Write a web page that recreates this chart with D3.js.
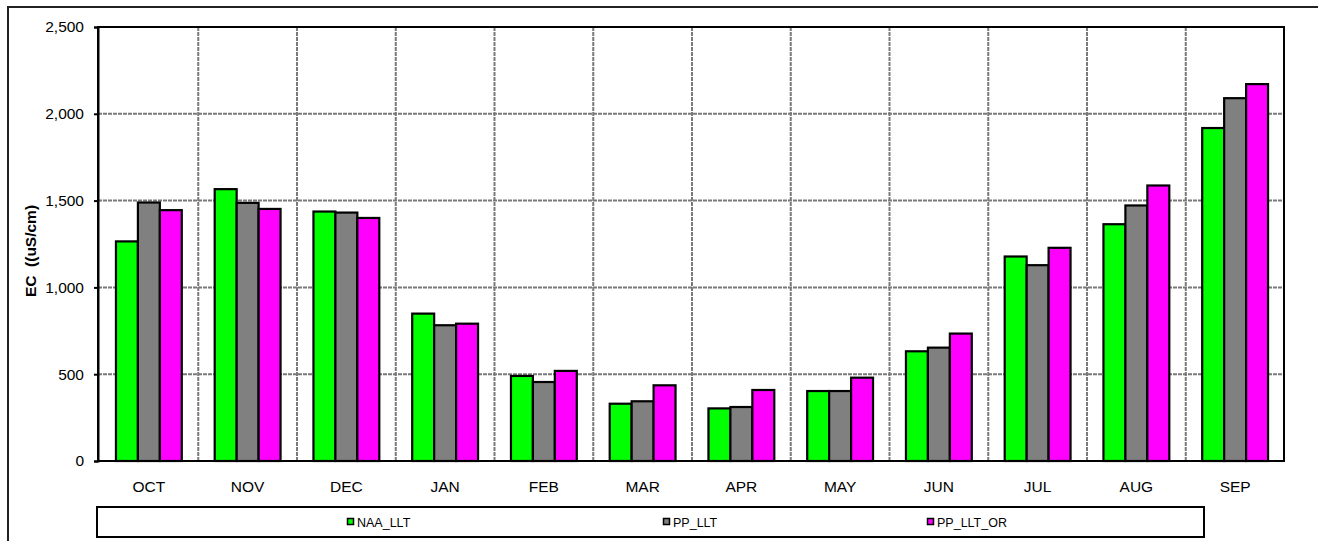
<!DOCTYPE html>
<html>
<head>
<meta charset="utf-8">
<script src="https://cdn.jsdelivr.net/npm/d3@7"></script>
<style>
  html, body { margin: 0; padding: 0; background: #fff; overflow: hidden; }
  svg { display: block; font-family: "Liberation Sans", Arial, sans-serif; }
</style>
</head>
<body>
<svg id="chart" width="1318" height="541"></svg>
<script>
const months = ["OCT","NOV","DEC","JAN","FEB","MAR","APR","MAY","JUN","JUL","AUG","SEP"];
const seriesNames = ["NAA_LLT","PP_LLT","PP_LLT_OR"];
const seriesColors = ["#00FF00","#808080","#FF00FF"];
const naaLLT   = [1265, 1566, 1437, 849, 490, 330, 303, 403, 632, 1178, 1364, 1918];
const ppLLT    = [1489, 1487, 1431, 782, 455, 344, 311, 403, 653, 1128, 1472, 2090];
const ppLLTOR  = [1445, 1452, 1400, 791, 519, 436, 409, 480, 734, 1228, 1587, 2171];
const yTicks = [0, 500, 1000, 1500, 2000, 2500];
const yTitle = "EC  ((uS/cm)";

const seriesValues = [naaLLT, ppLLT, ppLLTOR];

const svg = d3.select("#chart");
const plot = { left: 98, right: 1284, top: 27, bottom: 461 };

// outer border (extends beyond right/bottom edges as in reference)
svg.append("rect")
  .attr("x", 8).attr("y", 7).attr("width", 1400).attr("height", 700)
  .attr("fill", "#fff").attr("stroke", "#222").attr("stroke-width", 2);

const x0 = d3.scaleBand().domain(months).range([plot.left + 1.5, plot.right + 0.5]).paddingInner(0).paddingOuter(0);
const cw = x0.bandwidth();
const bw = cw / 4.5;
const x1 = d3.scaleBand().domain(seriesNames).range([(cw - 3 * bw) / 2, (cw + 3 * bw) / 2]);
const y = d3.scaleLinear().domain([0, 2500]).range([plot.bottom, plot.top]);

// gridlines
const grid = svg.append("g").attr("stroke", "#7a7a7a").attr("stroke-width", 2).attr("stroke-dasharray", "4,1");
yTicks.filter(t => t > 0 && t < 2500).forEach(t => {
  grid.append("line").attr("x1", plot.left).attr("x2", plot.right).attr("y1", y(t)).attr("y2", y(t));
});
months.slice(1).forEach(m => {
  grid.append("line").attr("x1", x0(m)).attr("x2", x0(m)).attr("y1", plot.top).attr("y2", plot.bottom);
});

// bars
const groups = svg.append("g").selectAll("g").data(months).join("g")
  .attr("transform", m => `translate(${x0(m)},0)`);
groups.selectAll("rect")
  .data((m, i) => seriesNames.map((s, k) => ({ s, k, v: seriesValues[k][i] })))
  .join("rect")
  .attr("x", d => x1(d.s))
  .attr("width", x1.bandwidth())
  .attr("y", d => y(d.v))
  .attr("height", d => y(0) - y(d.v))
  .attr("fill", d => seriesColors[d.k])
  .attr("stroke", "#000")
  .attr("stroke-width", 2.2);

// plot frame
svg.append("rect")
  .attr("x", plot.left).attr("y", plot.top)
  .attr("width", plot.right - plot.left).attr("height", plot.bottom - plot.top)
  .attr("fill", "none").attr("stroke", "#000").attr("stroke-width", 2);

// y axis
const yAxis = d3.axisLeft(y).tickValues(yTicks).tickFormat(d3.format(",")).tickSize(4).tickPadding(10);
const ya = svg.append("g").attr("transform", `translate(${plot.left},0)`).call(yAxis);
ya.select(".domain").attr("stroke", "#000").attr("stroke-width", 2);
ya.selectAll(".tick line").attr("stroke", "#000").attr("stroke-width", 2);
ya.selectAll(".tick text").attr("font-size", "15.5px").attr("fill", "#000")
  .attr("font-family", "'Liberation Sans', Arial, sans-serif");

// x axis labels
const xAxis = d3.axisBottom(x0).tickSize(0).tickPadding(20);
const xa = svg.append("g").attr("transform", `translate(0,${plot.bottom})`).call(xAxis);
xa.select(".domain").remove();
xa.selectAll(".tick text").attr("font-size", "15.5px").attr("fill", "#000")
  .attr("font-family", "'Liberation Sans', Arial, sans-serif");

// y title
svg.append("text")
  .attr("transform", `translate(36,251) rotate(-90)`)
  .attr("text-anchor", "middle")
  .attr("font-size", "15.5px").attr("font-weight", "bold")
  .attr("xml:space", "preserve")
  .style("white-space", "pre")
  .text(yTitle);

// legend
const legend = { x: 97, y: 507, w: 1107, h: 30 };
svg.append("rect")
  .attr("x", legend.x).attr("y", legend.y).attr("width", legend.w).attr("height", legend.h)
  .attr("fill", "#fff").attr("stroke", "#000").attr("stroke-width", 2);
const legendX = [347, 663, 927];
seriesNames.forEach((s, k) => {
  const g = svg.append("g").attr("transform", `translate(${legendX[k]},${legend.y + legend.h / 2})`);
  g.append("rect").attr("x", 0.5).attr("y", -3.5).attr("width", 6).attr("height", 6)
    .attr("fill", seriesColors[k]).attr("stroke", "#000").attr("stroke-width", 1.5);
  g.append("text").attr("x", 10).attr("y", 4.5)
    .attr("font-size", "12.5px").attr("fill", "#000").text(s);
});
</script>
</body>
</html>
